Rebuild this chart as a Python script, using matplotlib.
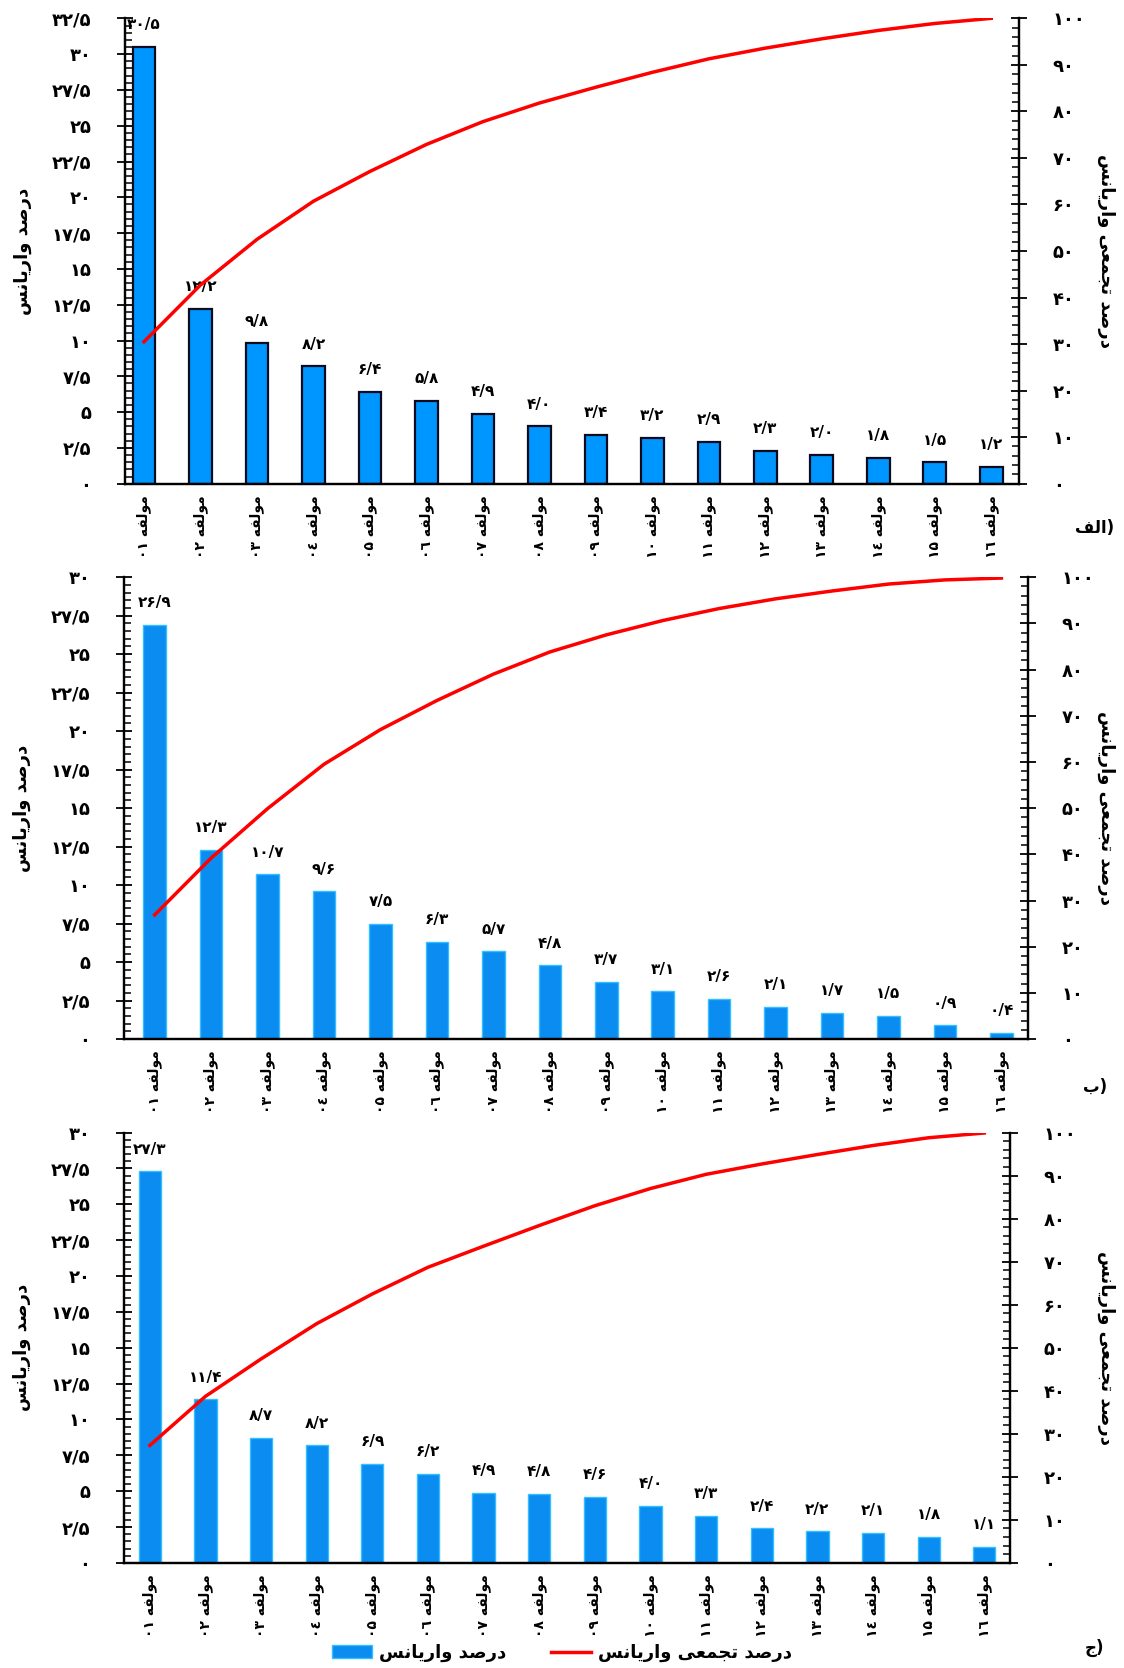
import numpy as np
import matplotlib
matplotlib.use('Agg')
from matplotlib import pyplot as plt
from matplotlib.ticker import MultipleLocator, FuncFormatter
from matplotlib.patches import Patch
from matplotlib.lines import Line2D

plt.rcParams['font.family'] = ['DejaVu Sans']

# ---- data ----
components = ['مولفه ۰۱', 'مولفه ۰۲', 'مولفه ۰۳', 'مولفه ۰٤', 'مولفه ۰۵', 'مولفه ۰٦',
              'مولفه ۰۷', 'مولفه ۰۸', 'مولفه ۰۹', 'مولفه ۱۰', 'مولفه ۱۱', 'مولفه ۱۲',
              'مولفه ۱۳', 'مولفه ۱٤', 'مولفه ۱۵', 'مولفه ۱٦']

var_a = [30.5, 12.2, 9.8, 8.2, 6.4, 5.8, 4.9, 4.0, 3.4, 3.2, 2.9, 2.3, 2.0, 1.8, 1.5, 1.2]
cum_a = [30.5, 42.7, 52.5, 60.7, 67.1, 72.9, 77.8, 81.8, 85.2, 88.4, 91.3, 93.6, 95.6, 97.4, 98.9, 100.0]

var_b = [26.9, 12.3, 10.7, 9.6, 7.5, 6.3, 5.7, 4.8, 3.7, 3.1, 2.6, 2.1, 1.7, 1.5, 0.9, 0.4]
cum_b = [26.9, 39.2, 49.9, 59.5, 67.0, 73.3, 79.0, 83.8, 87.5, 90.6, 93.2, 95.3, 97.0, 98.5, 99.4, 99.8]

var_c = [27.3, 11.4, 8.7, 8.2, 6.9, 6.2, 4.9, 4.8, 4.6, 4.0, 3.3, 2.4, 2.2, 2.1, 1.8, 1.1]
cum_c = [27.3, 38.7, 47.4, 55.6, 62.5, 68.7, 73.6, 78.4, 83.0, 87.0, 90.3, 92.7, 94.9, 97.0, 98.8, 99.9]

panel_names = ['الف)', 'ب)', 'ج)']
ylabel_left = 'درصد واریانس'
ylabel_right = 'درصد تجمعی واریانس'


# ---- minimal persian shaping (matplotlib has no bidi / joining) ----
FORMS = {
    'ا': ('\uFE8D', '\uFE8E', None, None),
    'ب': ('\uFE8F', '\uFE90', '\uFE91', '\uFE92'),
    'ت': ('\uFE95', '\uFE96', '\uFE97', '\uFE98'),
    'ج': ('\uFE9D', '\uFE9E', '\uFE9F', '\uFEA0'),
    'د': ('\uFEA9', '\uFEAA', None, None),
    'ر': ('\uFEAD', '\uFEAE', None, None),
    'س': ('\uFEB1', '\uFEB2', '\uFEB3', '\uFEB4'),
    'ص': ('\uFEB9', '\uFEBA', '\uFEBB', '\uFEBC'),
    'ع': ('\uFEC9', '\uFECA', '\uFECB', '\uFECC'),
    'ف': ('\uFED1', '\uFED2', '\uFED3', '\uFED4'),
    'ل': ('\uFEDD', '\uFEDE', '\uFEDF', '\uFEE0'),
    'م': ('\uFEE1', '\uFEE2', '\uFEE3', '\uFEE4'),
    'ن': ('\uFEE5', '\uFEE6', '\uFEE7', '\uFEE8'),
    'ه': ('\uFEE9', '\uFEEA', '\uFEEB', '\uFEEC'),
    'و': ('\uFEED', '\uFEEE', None, None),
    'ی': ('\uFBFC', '\uFBFD', '\uFBFE', '\uFBFF'),
}


def shape(word):
    out = []
    for i, ch in enumerate(word):
        if ch not in FORMS:
            out.append(ch)
            continue
        prev = word[i - 1] if i > 0 else None
        nxt = word[i + 1] if i + 1 < len(word) else None
        iso, fin, ini, med = FORMS[ch]
        jp = prev in FORMS and FORMS[prev][2] is not None
        jn = nxt in FORMS and ini is not None
        if jp and jn:
            out.append(med)
        elif jp:
            out.append(fin)
        elif jn:
            out.append(ini)
        else:
            out.append(iso)
    return ''.join(out)


def rtl(text):
    words = text.split(' ')
    vis = []
    for w in reversed(words):
        if any(c in FORMS for c in w):
            tail = ''
            if w.endswith(')'):
                w, tail = w[:-1], ')'
            vis.append(shape(w)[::-1] + tail)
        else:
            vis.append(w)
    return ' '.join(vis)


FA = str.maketrans('0123456789.', '۰۱۲۳۴۵۶۷۸۹/')


def fa_num(v, fmt):
    return (fmt % v).translate(FA)


def tick_fmt(v, pos):
    if abs(v - round(v)) < 1e-6:
        return fa_num(v, '%d')
    return fa_num(v, '%.1f')


# ---- layout (figure fractions) ----
W, H = 1124, 1668
fig = plt.figure(figsize=(W / 100, H / 100), dpi=100)

rects = [
    [0.111, 0.710, 0.796, 0.279],
    [0.110, 0.377, 0.805, 0.277],
    [0.110, 0.063, 0.789, 0.258],
]
xlims = [(-0.34, 15.5), (-0.55, 15.48), (-0.47, 15.47)]
ymax_left = [32.5, 30, 30]
vars_ = [var_a, var_b, var_c]
cums = [cum_a, cum_b, cum_c]
bar_face = ['#0096ff', '#0a8cf0', '#0a8cf0']
bar_edge = ['#0a0a20', '#35bfff', '#35bfff']
bar_lw = [1.6, 1.0, 1.0]
letter_y = [528, 1087, 1648]

x = np.arange(len(components))
cat_labels = [rtl(c) for c in components]

for k in range(3):
    ax = fig.add_axes(rects[k])
    ax2 = ax.twinx()
    ax.bar(x, vars_[k], width=0.4, color=bar_face[k], edgecolor=bar_edge[k],
           linewidth=bar_lw[k], zorder=2)
    for xi, v in zip(x, vars_[k]):
        ax.annotate(fa_num(v, '%.1f'), (xi, v), xytext=(0, 16), textcoords='offset points',
                    ha='center', va='center', fontsize=11, fontweight='bold',
                    annotation_clip=False)
    ax2.plot(x, cums[k], color='red', lw=2.5, zorder=3)

    ax.set_xlim(*xlims[k])
    ax.set_ylim(0, ymax_left[k])
    ax2.set_ylim(0, 100)

    ax.set_xticks(x)
    ax.set_xticklabels(cat_labels, rotation=90, fontsize=10, fontweight='bold')
    ax.tick_params(axis='x', length=0, pad=8)

    ax.yaxis.set_major_locator(MultipleLocator(2.5))
    ax.yaxis.set_minor_locator(MultipleLocator(0.5))
    ax.yaxis.set_major_formatter(FuncFormatter(tick_fmt))
    ax2.yaxis.set_major_locator(MultipleLocator(10))
    ax2.yaxis.set_minor_locator(MultipleLocator(2))
    ax2.yaxis.set_major_formatter(FuncFormatter(tick_fmt))

    for a in (ax, ax2):
        a.tick_params(axis='y', which='major', direction='inout', length=12, width=1.3,
                      labelsize=13, pad=18)
        a.tick_params(axis='y', which='minor', direction='in', length=5, width=1.1)
        for lab in a.get_yticklabels():
            lab.set_fontweight('bold')
        a.spines['top'].set_visible(False)
        for s in ('left', 'right', 'bottom'):
            a.spines[s].set_linewidth(1.6)

    ax.set_ylabel(rtl(ylabel_left), rotation=90, fontsize=13, fontweight='bold', labelpad=14)

    l, b, w, h = rects[k]
    fig.text(1106 / W, b + h / 2, rtl(ylabel_right), rotation=270, fontsize=13,
             fontweight='bold', ha='center', va='center')
    fig.text(1095 / W, 1 - letter_y[k] / H, rtl(panel_names[k]), fontsize=12,
             fontweight='bold', ha='center', va='center')

handles = [Patch(facecolor='#0a8cf0', edgecolor='#35bfff'),
           Line2D([], [], color='red', lw=2.5)]
fig.legend(handles, [rtl(ylabel_left), rtl(ylabel_right)], loc='center',
           bbox_to_anchor=(0.5, 1 - 1653 / H), ncol=2, frameon=False,
           prop={'size': 13, 'weight': 'bold'}, handlelength=2.2, handletextpad=0.4,
           columnspacing=2.5)

fig.savefig('out.png', dpi=100)
